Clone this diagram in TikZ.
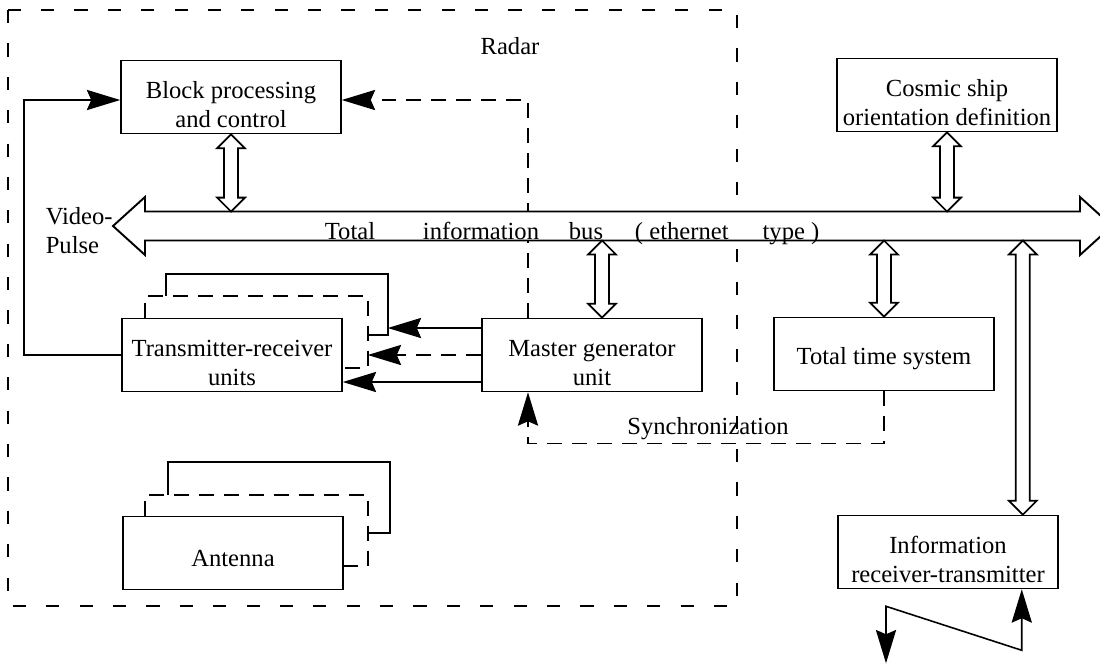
\documentclass[tikz,border=0pt]{standalone}
\usepackage{fontspec}
\setmainfont{Liberation Serif}
\usetikzlibrary{positioning,calc,arrows.meta}

\tikzset{
	unit/.style={draw, line width=0.9pt, fill=white, minimum width=4.4cm, minimum height=1.46cm, inner sep=0pt},
	caption/.style={align=center, yshift=-4.5pt},
	link/.style={line width=0.9pt},
	dashlink/.style={line width=0.9pt, dash pattern=on 8.5pt off 5.7pt},
	frame/.style={line width=0.8pt, dash pattern=on 7.5pt off 11.5pt},
	hollow/.style={draw, line width=1pt, fill=white, line join=miter},
}

% hollow two-headed arrow between two points, first one above the second
\newcommand\twoway[2]{%
	\path[hollow] let \p1=(#1), \p2=(#2) in
		(\x1,\y1) -- (\x1+7.9pt,\y1-7.9pt) -- (\x1+4pt,\y1-7.9pt) -- (\x2+4pt,\y2+7.9pt)
		-- (\x2+7.9pt,\y2+7.9pt) -- (\x2,\y2) -- (\x2-7.9pt,\y2+7.9pt) -- (\x2-4pt,\y2+7.9pt)
		-- (\x1-4pt,\y1-7.9pt) -- (\x1-7.9pt,\y1-7.9pt) -- cycle;}

\begin{document}
\begin{tikzpicture}[x=0.02cm, y=-0.02cm, >={Stealth[length=19pt,width=11.5pt,inset=2.5pt]},
	font=\fontsize{14}{16.5}\selectfont]
\useasboundingbox (0,0) rectangle (1100,664);
\clip (0,0) rectangle (1100,664);

% radar frame
\draw[frame] (8,10) rectangle (737,606);
\node (radar) at (510,46) {Radar};

% units
\node[unit, label={[caption]center:Block processing\\and control}] (blk) at (231,97) {};
\node[unit, label={[caption]center:Cosmic ship\\orientation definition}] (cos) at (947,95) {};
\node[unit, label={[caption]center:Master generator\\unit}] (mgu) at (592,355) {};
\node[unit, label={[caption, yshift=2pt]center:Total time system}] (tts) at (884,354) {};
\node[unit, label={[caption]center:Information\\receiver-transmitter}] (irt) at (948,552) {};
\node[unit, label={[caption]center:Transmitter-receiver\\units}] (trx) at (232,355) {};
\node[unit, label={[caption, yshift=1.5pt]center:Antenna}] (ant) at (233,553) {};

% stacked copies behind
\draw[dashlink] ($(trx.north west)+(24,0)$) -- ++(0,-22) -| ($(trx.east)+(25,13)$) -- ($(trx.east)+(0,13)$);
\draw[link] ($(trx.north west)+(45,-22)$) -- ++(0,-22) -| ($(trx.east)+(45,-20)$) -- ($(trx.east)+(25,-20)$);
\draw[dashlink] ($(ant.north west)+(23,0)$) -- ++(0,-21) -| ($(ant.east)+(24,13)$) -- ($(ant.east)+(0,13)$);
\draw[link] ($(ant.north west)+(46,-21)$) -- ++(0,-33) -| ($(ant.east)+(46,-20)$) -- ($(ant.east)+(24,-20)$);

% control lines
\coordinate (mgutap) at ($(mgu.north)+(-64,0)$);
\draw[dashlink,->] (mgutap) |- ($(blk.east)+(0,3)$);
\draw[link,->] (trx.west) -- ++(-97,0) |- ($(blk.west)+(0,3)$);
\draw[link,->] ($(mgu.west)+(0,-27)$) -- ($(trx.east)+(45,-27)$);
\draw[dashlink,->] (mgu.west) -- ($(trx.east)+(25,0)$);
\draw[link,->] ($(mgu.west)+(0,27)$) -- ($(trx.east)+(0,27)$);
\draw[dashlink,->] (tts.south) -- ++(0,52) -| ($(mgu.south)+(-64,0)$);
\node (sync) at (708,429) {Synchronization};

% bus
\coordinate (busL) at (113,226);
\coordinate (bustop) at (0,211.5);
\coordinate (busbot) at (0,240.5);
\draw[hollow, line width=1.1pt] (busL) -- (145,197) -- (145,211.5) -- (1080,211.5) -- (1080,197)
	-- (1112,226) -- (1080,255) -- (1080,240.5) -- (145,240.5) -- (145,255) -- cycle;
\foreach \w/\x [count=\i] in {Total/350, information/481, bus/586, {(}/639, ethernet/689, {type )}/791}
	\node[anchor=base] (bw\i) at (\x,239) {\w};
\node (vp) [anchor=east, align=left, inner sep=0pt] at ($(busL)+(0,5)$) {Video-\\Pulse};

\coordinate (mgutop) at ($(mgu.north)+(10,0)$);
\coordinate (irttop) at ($(irt.north east)+(-36,0)$);
\twoway{blk.south}{blk.south |- bustop}
\twoway{cos.south}{cos.south |- bustop}
\twoway{mgutop |- busbot}{mgutop}
\twoway{tts.north |- busbot}{tts.north}
\twoway{irttop |- busbot}{irttop}

% antenna feed
\draw[link,<->] ($(irt.south)+(-62,74)$) -- ++(0,-57) -- ($(irt.south east)+(-37,61)$) -- ($(irt.south east)+(-37,0)$);

\end{tikzpicture}
\end{document}
